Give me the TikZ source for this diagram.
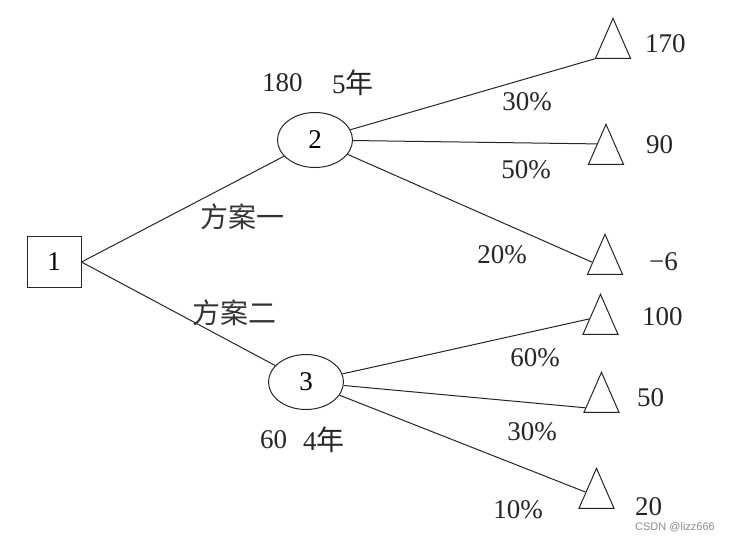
\documentclass[tikz,border=0pt]{standalone}
\usepackage{fontspec}
\setmainfont{Liberation Serif}
\newfontfamily\cjk{Noto Sans CJK SC}
\newfontfamily\wmfont{Liberation Sans}
\usetikzlibrary{shapes.geometric,calc}
\begin{document}
\begin{tikzpicture}[x=1pt,y=-1pt,
  lbl/.style={font=\fontsize{27}{30}\selectfont, inner sep=0, text=black!85},
  cj/.style={font=\cjk\fontsize{28}{30}\selectfont, inner sep=0, text=black!80},
  line/.style={draw=black!85, line width=1pt},
  decbox/.style={line, rectangle, minimum width=54pt, minimum height=51pt, inner sep=0, font=\fontsize{27}{30}\selectfont},
  chance/.style={line, ellipse, minimum width=75pt, minimum height=55pt, inner sep=0, font=\fontsize{27}{30}\selectfont},
  tri/.style={line, isosceles triangle, shape border rotate=90, isosceles triangle stretches, minimum width=35pt, minimum height=40pt, inner sep=0, anchor=apex}
]
\useasboundingbox (0,0) rectangle (737,541);
\fill[white] (0,0) rectangle (737,541);

\node[decbox] (n1) at (54,262) {1};
\node[chance] (n2) at (315,140) {2};
\node[chance] (n3) at (306,382) {3};

\node[tri] (t1) at (613,17) {};
\node[tri] (t2) at (606,123) {};
\node[tri] (t3) at (605,233) {};
\node[tri] (t4) at (600.5,293) {};
\node[tri] (t5) at (601.5,371) {};
\node[tri] (t6) at (596.5,467) {};

\draw[line] (n1.east) -- (n2);
\draw[line] (n1.east) -- (n3);
\draw[line] (n2) -- (t1.left corner);
\draw[line] (n2) -- (t2.left side);
\draw[line] (n2) -- ($(t3.apex)!0.7!(t3.left corner)$);
\draw[line] (n3) -- ($(t4.apex)!0.62!(t4.left corner)$);
\draw[line] (n3) -- ($(t5.apex)!0.88!(t5.left corner)$);
\draw[line] (n3) -- ($(t6.apex)!0.6!(t6.left corner)$);

\node[lbl, anchor=west] (a1) at (262,83) {180};
\node[lbl, anchor=west] (a2) at (332,83) {5{\cjk\fontsize{28}{30}\selectfont 年}};
\node[lbl, anchor=west] (a3) at (260,440) {60};
\node[lbl, anchor=west] (a4) at (303,440) {4{\cjk\fontsize{28}{30}\selectfont 年}};
\node[cj, anchor=west] (c1) at (200,217) {方案一};
\node[cj, anchor=west] (c2) at (192,313) {方案二};

\node[lbl] (p1) at (527,102) {30\%};
\node[lbl] (p2) at (526,170) {50\%};
\node[lbl] (p3) at (502,255) {20\%};
\node[lbl] (p4) at (535,358) {60\%};
\node[lbl] (p5) at (532,432) {30\%};
\node[lbl] (p6) at (518,510) {10\%};

\node[lbl, anchor=west] (v1) at (645,44) {170};
\node[lbl, anchor=west] (v2) at (646,145) {90};
\node[lbl, anchor=west] (v3) at (649,262) {−6};
\node[lbl, anchor=west] (v4) at (642,317) {100};
\node[lbl, anchor=west] (v5) at (637,398) {50};
\node[lbl, anchor=west] (v6) at (635,507) {20};

\node[anchor=west, inner sep=0, font=\wmfont\fontsize{11}{13}\selectfont, text=black!45] (wm) at (635,527) {CSDN @lizz666};
\end{tikzpicture}
\end{document}
